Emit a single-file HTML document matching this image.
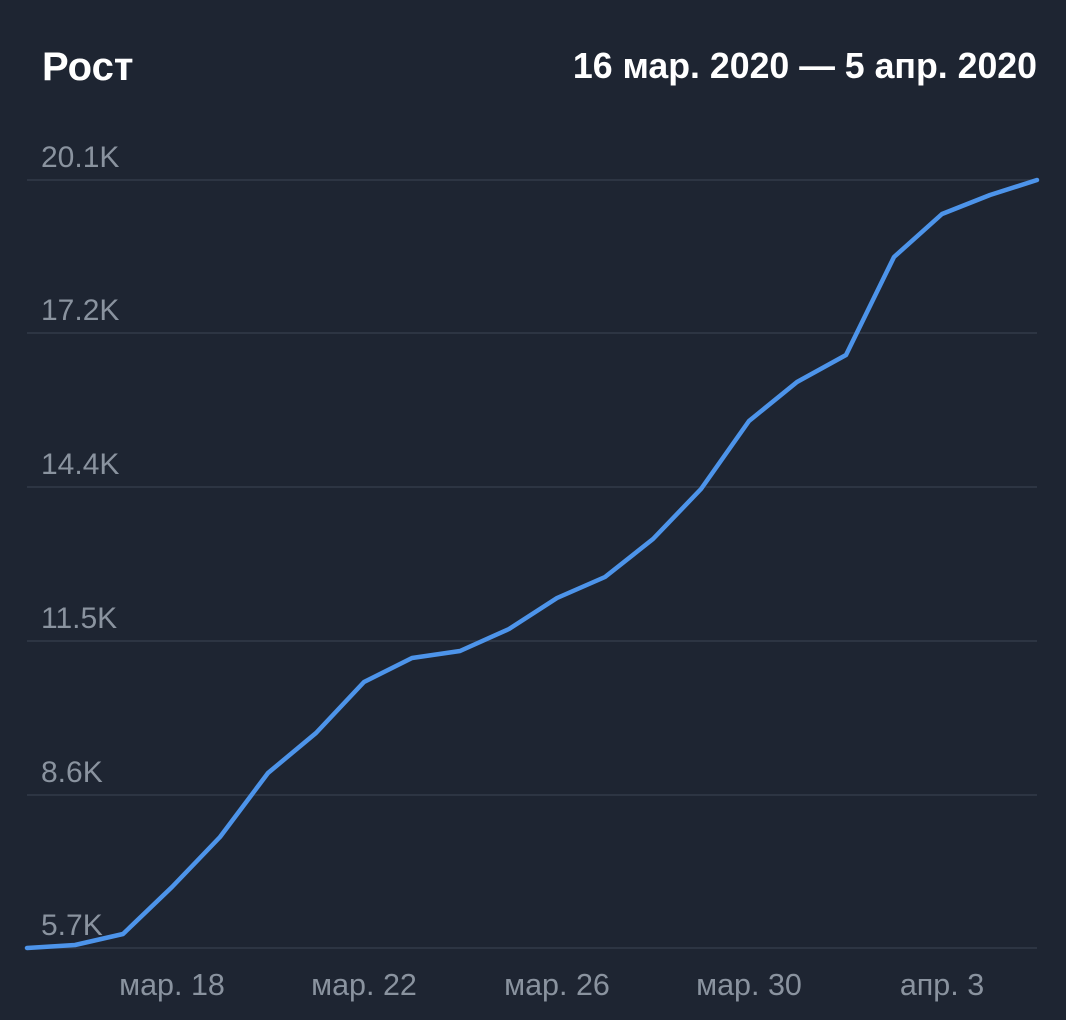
<!DOCTYPE html>
<html><head><meta charset="utf-8"><style>
html,body{margin:0;padding:0;background:#1e2532;}
svg{display:block}
</style></head><body>
<svg width="1066" height="1020" viewBox="0 0 1066 1020" xmlns="http://www.w3.org/2000/svg">
<rect width="1066" height="1020" fill="#1e2532"/>
<text x="42" y="80" font-family="Liberation Sans, sans-serif" font-size="40" font-weight="bold" fill="#ffffff">Рост</text>
<text x="1037" y="78" text-anchor="end" font-family="Liberation Sans, sans-serif" font-size="35.7" font-weight="bold" fill="#ffffff">16 мар. 2020 — 5 апр. 2020</text>
<g stroke="#323b49" stroke-width="1.5">
<line x1="27" y1="180" x2="1037" y2="180"/>
<line x1="27" y1="333" x2="1037" y2="333"/>
<line x1="27" y1="487" x2="1037" y2="487"/>
<line x1="27" y1="641" x2="1037" y2="641"/>
<line x1="27" y1="795" x2="1037" y2="795"/>
<line x1="27" y1="948" x2="1037" y2="948"/>
</g>
<g font-family="Liberation Sans, sans-serif" font-size="30" fill="#8a939f">
<text x="41" y="167">20.1K</text>
<text x="41" y="320">17.2K</text>
<text x="41" y="474">14.4K</text>
<text x="41" y="628">11.5K</text>
<text x="41" y="782">8.6K</text>
<text x="41" y="935">5.7K</text>
</g>
<g font-family="Liberation Sans, sans-serif" font-size="30.5" fill="#8a939f" text-anchor="middle">
<text x="172" y="995">мар. 18</text>
<text x="364" y="995">мар. 22</text>
<text x="557" y="995">мар. 26</text>
<text x="749" y="995">мар. 30</text>
<text x="942" y="995">апр. 3</text>
</g>
<polyline fill="none" stroke="#4d94ea" stroke-width="4.5" stroke-linejoin="round" stroke-linecap="round"
points="27,948 75,945 123,934 172,887 220,837 268,773 316,733 364,682 412,658 460,651 509,629 557,598 605,577 653,539 701,489 749,421 797,382 846,355 894,257 942,214 990,195 1037,180"/>
</svg>
</body></html>
